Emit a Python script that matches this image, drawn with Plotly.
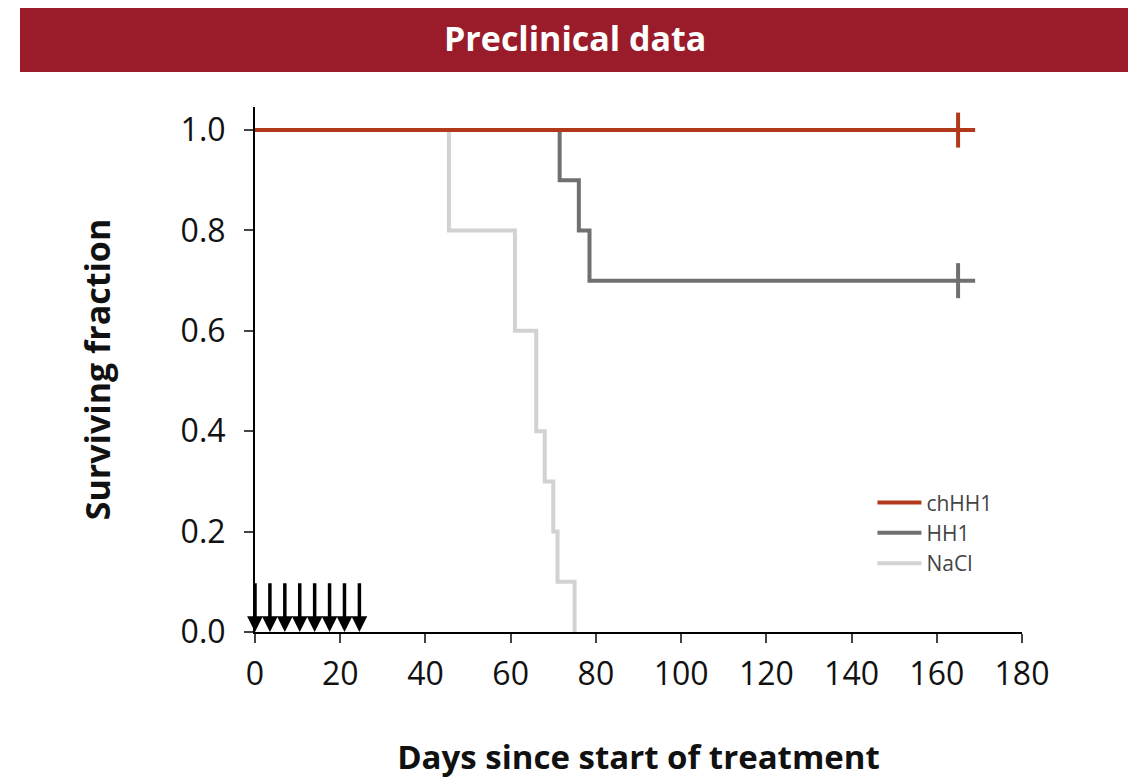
import plotly.graph_objects as go

# Data (Kaplan-Meier step curves)
chhh1_days = [0, 169]
chhh1_surv = [1.0, 1.0]
hh1_days = [0, 71.5, 76, 78.5, 169]
hh1_surv = [1.0, 0.9, 0.8, 0.7, 0.7]
nacl_days = [0, 45.5, 61, 66, 68, 70, 71, 75]
nacl_surv = [1.0, 0.8, 0.6, 0.4, 0.3, 0.2, 0.1, 0.0]
censor_days = [165, 165]
censor_surv = [1.0, 0.7]
treatment_days = [0, 3.5, 7, 10.5, 14, 17.5, 21, 24.5]
x_ticks = [0, 20, 40, 60, 80, 100, 120, 140, 160, 180]
y_ticks = [0.0, 0.2, 0.4, 0.6, 0.8, 1.0]

RED = "#B2381A"
GRAY = "#707070"
LIGHT = "#D2D2D2"

fig = go.Figure()
fig.add_trace(go.Scatter(x=nacl_days, y=nacl_surv, mode="lines", line_shape="hv",
                         line=dict(color=LIGHT, width=4), name="NaCl", cliponaxis=False))
fig.add_trace(go.Scatter(x=hh1_days, y=hh1_surv, mode="lines", line_shape="hv",
                         line=dict(color=GRAY, width=4), name="HH1", cliponaxis=False))
fig.add_trace(go.Scatter(x=chhh1_days, y=chhh1_surv, mode="lines", line_shape="hv",
                         line=dict(color=RED, width=4), name="chHH1", cliponaxis=False))
fig.add_trace(go.Scatter(x=censor_days, y=censor_surv, mode="markers", showlegend=False,
                         marker=dict(symbol="line-ns", size=25,
                                     line=dict(color=[RED, GRAY], width=4)),
                         cliponaxis=False))

for d in treatment_days:
    fig.add_annotation(x=d, y=0.0, ax=d, ay=0.1, xref="x", yref="y", axref="x", ayref="y",
                       showarrow=True, arrowhead=2, arrowsize=0.9, arrowwidth=3.5,
                       arrowcolor="black", text="")

# Title banner
fig.add_shape(type="rect", xref="paper", yref="paper",
              x0=(20 - 255) / 767, x1=(1130 - 255) / 767,
              y0=(632 - 72) / 525, y1=(632 - 5) / 525,
              fillcolor="#9A1C2A", line_width=0, layer="below")
fig.add_annotation(xref="paper", yref="paper", x=(575 - 255) / 767, y=(632 - 38) / 525,
                   xanchor="center", yanchor="middle",
                   text="<b>Preclinical data</b>", showarrow=False,
                   font=dict(family="Open Sans", size=34, color="white"))

fig.update_layout(
    width=1128, height=771,
    margin=dict(l=247, r=114, t=99, b=147, autoexpand=False),
    plot_bgcolor="white", paper_bgcolor="white",
    legend=dict(x=0.805, y=0.285, xanchor="left", yanchor="top", traceorder="reversed",
                font=dict(family="Open Sans", size=21, color="#444"),
                bgcolor="rgba(0,0,0,0)", itemwidth=44, tracegroupgap=0),
    xaxis=dict(range=[0, 180], tickvals=x_ticks, ticks="outside", ticklen=9, tickwidth=2,
               showline=True, linecolor="black", linewidth=2, showgrid=False, zeroline=False,
               ticklabelstandoff=4, automargin=False,
               tickfont=dict(family="Open Sans", size=32, color="#111"),
               title=dict(text="<b>Days since start of treatment</b>", standoff=54,
                          font=dict(family="Open Sans", size=33, color="#111"))),
    yaxis=dict(range=[0, 1.046], tickvals=y_ticks, tickformat=".1f", ticks="outside",
               ticklen=9, tickwidth=2, showline=True, linecolor="black", linewidth=2,
               showgrid=False, zeroline=False, ticklabelstandoff=12, automargin=False,
               tickfont=dict(family="Open Sans", size=32, color="#111"),
               title=dict(text="<b>Surviving fraction</b>", standoff=60,
                          font=dict(family="Open Sans", size=34, color="#111"))),
)

fig.write_html("out.html")
